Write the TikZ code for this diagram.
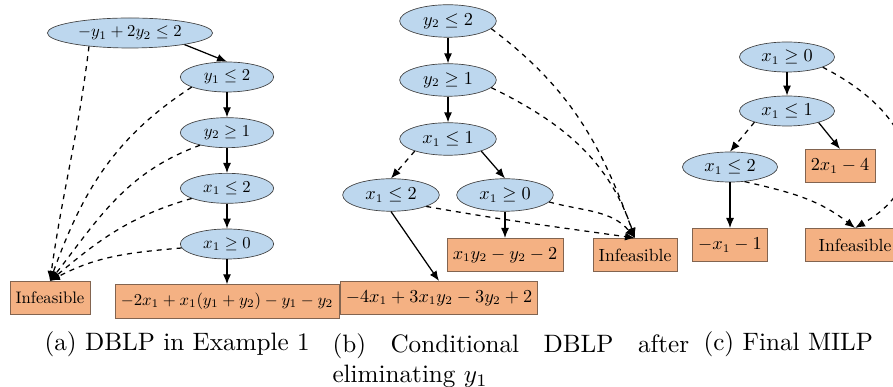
\documentclass[tikz,border=0pt]{standalone}
\usepackage{amsmath,amssymb}
\usepackage{xcolor}
\usepackage{tikz}
\usetikzlibrary{shapes,arrows.meta,positioning}

\definecolor{condblue}{RGB}{189,215,238}
\definecolor{leaforange}{RGB}{244,177,131}
\definecolor{leafedge}{RGB}{130,100,80}

\begin{document}
\begin{tikzpicture}[
    x=0.6pt, y=0.6pt,
    cond/.style={draw=black!75, ellipse, fill=condblue, inner xsep=4pt, inner ysep=1pt, minimum width=56pt, minimum height=18pt},
    leaf/.style={draw=leafedge, rectangle, fill=leaforange, inner sep=3.4pt, minimum height=20pt},
    arrow/.style={-{Latex[length=6pt,width=4.8pt]}, line width=0.75pt},
    fail/.style={arrow, dashed},
    caption/.style={font=\normalsize\hyphenpenalty 10000\relax, inner sep=0pt, scale=1.51, transform shape}
]
\useasboundingbox (0,0) rectangle (893,-387);
\clip (0,0) rectangle (893,-387);

% (a) diagram before elimination
\node[cond] (ra) at (130,-33) {$-y_1+2y_2\leq 2$};
\node[cond] (a1) at (227,-77) {$y_1\leq 2$};
\node[cond, below=15pt of a1] (a2) {$y_2\geq 1$};
\node[cond, below=15pt of a2] (a3) {$x_1\leq 2$};
\node[cond, below=15pt of a3] (a4) {$x_1\geq 0$};
\node[leaf, below=15pt of a4] (fa) {$-2x_1+x_1(y_1+y_2)-y_1-y_2$};
\node[leaf] (infa) at (50,-298) {Infeasible};

\draw[arrow] (ra.-12) -- (a1.north);
\draw[arrow] (a1) -- (a2);
\draw[arrow] (a2) -- (a3);
\draw[arrow] (a3) -- (a4);
\draw[arrow] (a4) -- (fa);

\draw[fail] (ra.198) to[out=-97, in=82] (infa.north);
\draw[fail] (a1.196) to[out=213, in=70] (infa.north);
\draw[fail] (a2.205) to[out=200, in=52] (infa.north);
\draw[fail] (a3.196) to[out=196, in=40] (infa.north);
\draw[fail] (a4.185) to[out=185, in=28] (infa.north);

% (b) after eliminating y1
\begin{scope}[every node/.append style={font=\fontsize{10.6}{12.7}\selectfont},
    cond/.append style={minimum width=58pt, minimum height=19.5pt}]
\node[cond] (b1) at (448,-21) {$y_2\leq 2$};
\node[cond, below=15.5pt of b1] (b2) {$y_2\geq 1$};
\node[cond, below=15.5pt of b2] (b3) {$x_1\leq 1$};
\node[cond] (b4) at (391,-195) {$x_1\leq 2$};
\node[cond] (b5) at (505,-195) {$x_1\geq 0$};
\node[leaf] (fb1) at (505,-255) {$x_1y_2-y_2-2$};
\node[leaf] (fb2) at (439,-298) {$-4x_1+3x_1y_2-3y_2+2$};
\node[leaf] (infb) at (635,-255) {Infeasible};

\draw[arrow] (b1) -- (b2);
\draw[arrow] (b2) -- (b3);
\draw[fail] (b3.200) -- (b4.north);
\draw[arrow] (b3.-20) -- (b5.north);
\draw[arrow] (b4.south) -- (fb2.north);
\draw[arrow] (b5) -- (fb1);

\draw[fail] (b1.-10) to[out=-37, in=110] (infb.north);
\draw[fail] (b2.-10) to[out=-26, in=109] (infb.north);
\draw[fail] (b4.-18) to[out=-10, in=172] (infb.north);
\draw[fail] (b5.-9) to[out=-15, in=130] (infb.north);
\end{scope}

% (c) final MILP
\begin{scope}[every node/.append style={font=\fontsize{10.6}{12.7}\selectfont},
    cond/.append style={minimum width=57pt}]
\node[cond] (c1) at (787,-57) {$x_1\geq 0$};
\node[cond, below=14pt of c1] (c2) {$x_1\leq 1$};
\node[cond] (c3) at (730,-167) {$x_1\leq 2$};
\node[leaf] (fc1) at (840,-166) {$2x_1-4$};
\node[leaf] (fc2) at (730,-245) {$-x_1-1$};
\node[leaf, minimum width=60pt] (infc) at (855,-245) {Infeasible};

\draw[arrow] (c1) -- (c2);
\draw[fail] (c2.199) -- (c3.north);
\draw[arrow] (c2.-20) -- (fc1.north);
\draw[arrow] (c3) -- (fc2);

\draw[fail] (c3.-45) to[out=-13, in=142] (infc.north);
\draw[fail] (c1.-16) to[out=-27, in=30, looseness=1.5] (infc.north);
\end{scope}

% sub-captions
\node[caption, anchor=base west] (capa) at (44,-351) {(a) DBLP in Example 1};
\node[caption, anchor=north west, text width=141.7pt, align=justify] (capb) at (332,-333)
    {(b) Conditional DBLP after eliminating $y_1$};
\node[caption, anchor=base west] (capc) at (703,-351) {(c) Final MILP};

\end{tikzpicture}
\end{document}
